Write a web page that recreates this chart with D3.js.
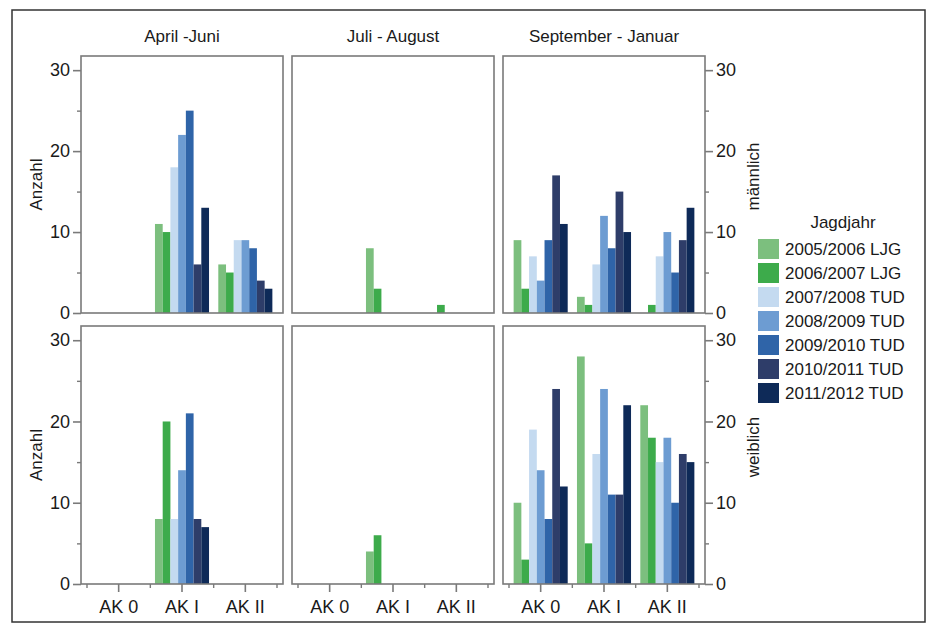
<!DOCTYPE html>
<html><head><meta charset="utf-8">
<script src="https://cdn.jsdelivr.net/npm/d3@7"></script>
<style>body{margin:0;background:#fff}svg{display:block}text{font-family:"Liberation Sans",Arial,sans-serif;fill:#1a1a1a}</style>
</head><body><svg id="c" width="930" height="630"></svg>
<script>
const periods = ["April -Juni", "Juli - August", "September - Januar"];
const sexes = ["männlich", "weiblich"];
const categories = ["AK 0", "AK I", "AK II"];
const seriesNames = ["2005/2006 LJG","2006/2007 LJG","2007/2008 TUD","2008/2009 TUD","2009/2010 TUD","2010/2011 TUD","2011/2012 TUD"];
const seriesColors = ["#7cbf7e","#3dab4b","#c4daf0","#6d9cd2","#2f64a8","#2e3d69","#0e2a58"];
const yTicks = [0,10,20,30];
const yMinor = [5,15,25];
// values[sex][period][category] = 7 series values
const maleAprJun = [[0,0,0,0,0,0,0],[11,10,18,22,25,6,13],[6,5,9,9,8,4,3]];
const maleJulAug = [[0,0,0,0,0,0,0],[8,3,0,0,0,0,0],[0,1,0,0,0,0,0]];
const maleSepJan = [[9,3,7,4,9,17,11],[2,1,6,12,8,15,10],[0,1,7,10,5,9,13]];
const femAprJun = [[0,0,0,0,0,0,0],[8,20,8,14,21,8,7],[0,0,0,0,0,0,0]];
const femJulAug = [[0,0,0,0,0,0,0],[4,6,0,0,0,0,0],[0,0,0,0,0,0,0]];
const femSepJan = [[10,3,19,14,8,24,12],[28,5,16,24,11,11,22],[22,18,15,18,10,16,15]];
const values = [[maleAprJun, maleJulAug, maleSepJan],[femAprJun, femJulAug, femSepJan]];

const svg = d3.select("#c");
const frameCol = "#7a7a7a";
svg.append("rect").attr("x",12).attr("y",10).attr("width",913).attr("height",612)
  .attr("fill","none").attr("stroke","#333").attr("stroke-width",1.5);

const panelX = [81, 292, 503], panelW = 202;
const rowY = [[56,313],[326,584]];
const yDomainMax = 31.75;

periods.forEach((p,i)=>{
  svg.append("text").attr("x",panelX[i]+panelW/2).attr("y",42).attr("text-anchor","middle")
    .attr("font-size",17).text(p);
});

sexes.forEach((s,r)=>{
  const y = d3.scaleLinear().domain([0,yDomainMax]).range([rowY[r][1], rowY[r][0]]);
  periods.forEach((p,c)=>{
    const x0 = panelX[c];
    const x = d3.scaleBand().domain(categories).range([x0+6, x0+panelW-6]).padding(0);
    const xs = d3.scaleBand().domain(seriesNames).range([0, x.bandwidth()]).paddingOuter(0.6).paddingInner(0);
    const g = svg.append("g");
    categories.forEach((cat,k)=>{
      g.selectAll(null).data(values[r][c][k]).join("rect")
        .attr("x",(d,j)=>x(cat)+xs(seriesNames[j]))
        .attr("width",xs.bandwidth())
        .attr("y",d=>y(d)).attr("height",d=>y(0)-y(d))
        .attr("fill",(d,j)=>seriesColors[j]);
    });
    g.append("rect").attr("x",x0).attr("y",rowY[r][0]).attr("width",panelW).attr("height",rowY[r][1]-rowY[r][0])
      .attr("fill","none").attr("stroke",frameCol).attr("stroke-width",1.6);
    // y axes
    if (c===0 || c===2){
      const left = c===0;
      const ax = left ? d3.axisLeft(y) : d3.axisRight(y);
      ax.tickValues(yTicks).tickSize(8).tickPadding(3).tickFormat(d3.format("d"));
      const ag = svg.append("g").attr("transform",`translate(${left?x0:x0+panelW},0)`).call(ax);
      ag.select(".domain").remove();
      ag.selectAll("line").attr("stroke",frameCol).attr("stroke-width",1.6);
      ag.selectAll("text").attr("font-size",18).attr("fill","#1a1a1a");
      const mg = svg.append("g").attr("transform",`translate(${left?x0:x0+panelW},0)`)
        .call((left?d3.axisLeft(y):d3.axisRight(y)).tickValues(yMinor).tickSize(4).tickFormat(""));
      mg.select(".domain").remove();
      mg.selectAll("line").attr("stroke",frameCol).attr("stroke-width",1.4);
    }
    if (r===1){
      const ax = d3.axisBottom(x).tickSize(8).tickPadding(8);
      const ag = svg.append("g").attr("transform",`translate(0,${rowY[r][1]})`).call(ax);
      ag.select(".domain").remove();
      ag.selectAll("line").attr("stroke",frameCol).attr("stroke-width",1.6);
      ag.selectAll("text").attr("font-size",18).attr("fill","#1a1a1a");
      const bounds = categories.map(cv=>x(cv)).concat([x(categories[2])+x.bandwidth()]);
      svg.append("g").selectAll("line").data(bounds).join("line")
        .attr("x1",d=>d).attr("x2",d=>d).attr("y1",rowY[r][1]).attr("y2",rowY[r][1]+4)
        .attr("stroke",frameCol).attr("stroke-width",1.4);
    }
  });
  const cy = (rowY[r][0]+rowY[r][1])/2;
  svg.append("text").attr("transform",`translate(42,${cy}) rotate(-90)`).attr("text-anchor","middle")
    .attr("font-size",17).text("Anzahl");
  svg.append("text").attr("transform",`translate(759,${cy-8}) rotate(-90)`).attr("text-anchor","middle")
    .attr("font-size",17).text(s);
});

// legend
const lg = svg.append("g");
lg.append("text").attr("x",843).attr("y",228).attr("text-anchor","middle").attr("font-size",17).text("Jagdjahr");
seriesNames.forEach((n,j)=>{
  lg.append("rect").attr("x",758).attr("y",239+j*24).attr("width",21).attr("height",20).attr("fill",seriesColors[j]);
  lg.append("text").attr("x",785).attr("y",255+j*24).attr("font-size",17).text(n);
});
</script></body></html>
